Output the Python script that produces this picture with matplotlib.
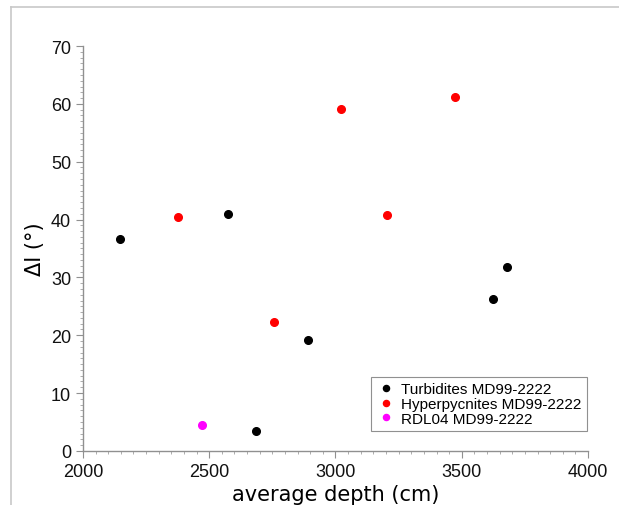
import matplotlib
matplotlib.use('Agg')
import matplotlib.pyplot as plt
from matplotlib.lines import Line2D
from matplotlib.ticker import MultipleLocator

# Data
turb_depth = [2146, 2574, 2685, 2891, 3624, 3679]
turb_di = [36.7, 41.0, 3.5, 19.1, 26.2, 31.8]

hyper_depth = [2376, 2756, 3022, 3204, 3473]
hyper_di = [40.5, 22.2, 59.1, 40.8, 61.2]

rdl_depth = [2471]
rdl_di = [4.5]

series_labels = ['Turbidites MD99-2222', 'Hyperpycnites MD99-2222', 'RDL04 MD99-2222']

fig = plt.figure(figsize=(6.19, 5.06), dpi=100)
ax = fig.add_axes([0.134, 0.107, 0.816, 0.800])

ax.plot(turb_depth, turb_di, 'o', color='black', markersize=5.5, label=series_labels[0])
ax.plot(hyper_depth, hyper_di, 'o', color='#ff0000', markersize=5.5, label=series_labels[1])
ax.plot(rdl_depth, rdl_di, 'o', color='#ff00ff', markersize=5.5, label=series_labels[2])

ax.set_xlim(2000, 4000)
ax.set_ylim(0, 70)
ax.xaxis.set_major_locator(MultipleLocator(500))
ax.xaxis.set_minor_locator(MultipleLocator(50))
ax.yaxis.set_major_locator(MultipleLocator(10))
ax.yaxis.set_minor_locator(MultipleLocator(1))

for s in ['top', 'right']:
    ax.spines[s].set_visible(False)
for s in ['left', 'bottom']:
    ax.spines[s].set_color('#909090')
    ax.spines[s].set_linewidth(1.0)

ax.tick_params(which='major', direction='out', length=5, color='#909090',
               labelsize=13, labelcolor='#111111')
ax.tick_params(which='minor', direction='out', length=2.5, color='#a0a0a0')
for lbl in ax.get_xticklabels() + ax.get_yticklabels():
    lbl.set_family(['Liberation Sans', 'DejaVu Sans'])

ax.set_xlabel('average depth (cm)', fontsize=15, family='DejaVu Sans', labelpad=3)
ax.set_ylabel('ΔI (°)', fontsize=15, family='DejaVu Sans', labelpad=4)

leg = ax.legend(loc='lower right', bbox_to_anchor=(0.998, 0.049), borderaxespad=0,
                fancybox=False, edgecolor='#909090', framealpha=1, handletextpad=0.35,
                borderpad=0.35, labelspacing=0.05, handlelength=1.3,
                prop={'family': ['Liberation Sans', 'DejaVu Sans'], 'size': 11},
                markerscale=0.8)
leg.get_frame().set_linewidth(0.8)

# faint frame around the picture
fig.add_artist(Line2D([10.5 / 619, 1], [1 - 7.5 / 506, 1 - 7.5 / 506],
                      color='#c8c8c8', linewidth=1.2))
fig.add_artist(Line2D([10.5 / 619, 10.5 / 619], [0, 1 - 7.5 / 506],
                      color='#c8c8c8', linewidth=1.2))

fig.savefig('out.png', dpi=100)
